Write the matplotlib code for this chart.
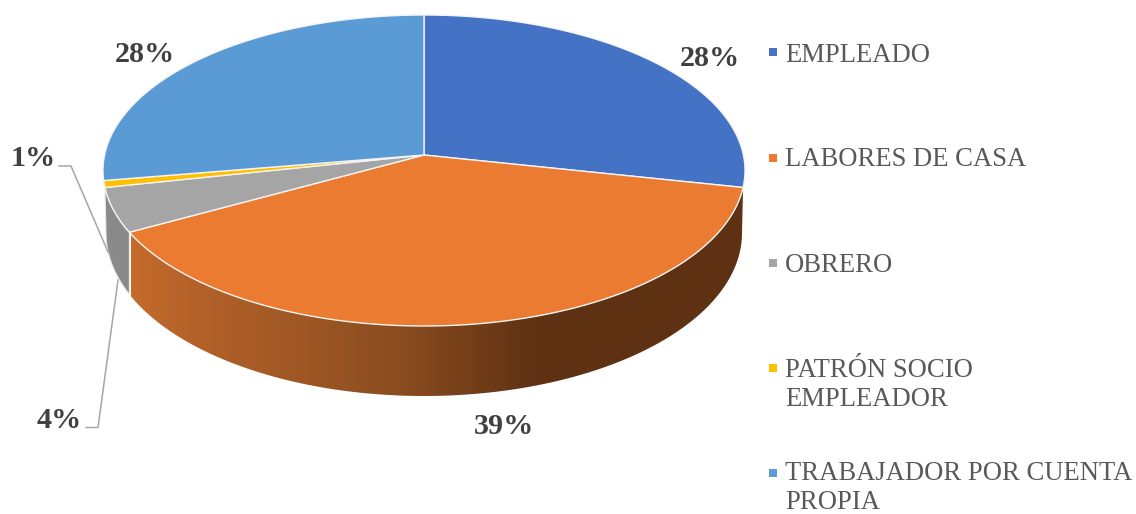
import numpy as np
import matplotlib.pyplot as plt
from matplotlib.colors import LinearSegmentedColormap
from matplotlib.patches import Polygon, Rectangle

plt.rcParams['font.family'] = ['Liberation Serif', 'DejaVu Serif']

# Data
categories = ['EMPLEADO', 'LABORES DE CASA', 'OBRERO', 'PATRÓN SOCIO\nEMPLEADOR',
              'TRABAJADOR POR CUENTA\nPROPIA']
shares = np.array([28.3, 38.8, 4.6, 0.7, 27.6])
pct_labels = ['28%', '39%', '4%', '1%', '28%']
colors = ['#4472C4', '#EB7B31', '#A5A5A5', '#FFC000', '#5B9BD5']

# Geometry in pixels: top ellipse, pie apex (off centre, perspective), lower rim
cx, cy, rx, ry = 424, 170.5, 321, 155.5
ax_y = 155
squash = 0.484
cy2, rx2, ry2 = 233, 318, 163


def top_pt(phi):
    # where the ray from the apex at angle phi meets the top ellipse
    phi = np.radians(phi)
    dx = np.sin(phi)
    dy = -np.cos(phi)*squash
    a = (dx/rx)**2 + (dy/ry)**2
    b = 2*dy*(ax_y - cy)/ry**2
    c = ((ax_y - cy)/ry)**2 - 1
    s = (-b + np.sqrt(b**2 - 4*a*c)) / (2*a)
    return np.column_stack([cx + s*dx, ax_y + s*dy])


def low_pt(t):
    t = np.radians(t)
    return np.column_stack([cx + rx2*np.sin(t), cy2 - ry2*np.cos(t)])


fig = plt.figure(figsize=(11.36, 5.14), dpi=100)
ax = fig.add_axes([0, 0, 1, 1])
ax.set_xlim(0, 1136)
ax.set_ylim(514, 0)
ax.axis('off')

edges = np.concatenate([[0], np.cumsum(shares)]) / shares.sum() * 360

# Lower rim angle under the orange/grey seam
seam_x = top_pt(np.array([edges[2]]))[0, 0]
seam_t = 180 + np.degrees(np.arcsin((cx - seam_x)/rx2))

# Side of the orange slice, shaded left to right
side = np.vstack([top_pt(np.linspace(edges[1], edges[2], 200)), low_pt(np.linspace(seam_t, 90, 200))])
patch = Polygon(side, closed=True, fc='none', ec='none')
ax.add_patch(patch)
cmap = LinearSegmentedColormap.from_list(
    'side', [(0, '#C66C2C'), (0.1, '#B9642A'), (0.65, '#8B4D20'), (1, '#5E3112')])
img = ax.imshow(np.linspace(0, 1, 256)[None, :], cmap=cmap, extent=[131, 540, 400, 180], aspect='auto', zorder=1)
img.set_clip_path(patch)
rest = Rectangle((540, 180), 210, 220, fc='#5E3112', ec='none', zorder=1)
ax.add_patch(rest)
rest.set_clip_path(patch)
ax.set_xlim(0, 1136)
ax.set_ylim(514, 0)

# Side of the grey slice
side = np.vstack([top_pt(np.linspace(edges[2], edges[3], 40)), low_pt(np.linspace(270, seam_t, 40))])
ax.add_patch(Polygon(side, closed=True, fc='#8A8A8A', ec='#E8E8E8', lw=0.8, zorder=2))

# Top face
for i in range(len(shares)):
    pts = np.vstack([[[cx, ax_y]], top_pt(np.linspace(edges[i], edges[i+1], 200))])
    ax.add_patch(Polygon(pts, closed=True, fc=colors[i], ec='#F4F4F4', lw=1.0, zorder=3))

# Data labels
label_pos = [(710, 58), (504, 426), (59, 420), (33, 159), (145, 54)]
for txt, (x, y) in zip(pct_labels, label_pos):
    ax.text(x, y, txt, ha='center', va='center', fontsize=21.7, fontweight='bold', color='#404040', zorder=5)

# Leader lines
ax.plot([59, 71, 108], [166, 166, 252], color='#A6A6A6', lw=1.1, zorder=4)
ax.plot([86, 98, 118], [427.5, 427.5, 280], color='#A6A6A6', lw=1.1, zorder=4)

# Legend
legend_y = [55, 160, 265, 385, 488]
mark_y = [52, 158, 263, 368, 473]
for name, col, y, my in zip(categories, colors, legend_y, mark_y):
    ax.add_patch(Rectangle((769, my - 3.75), 7.5, 7.5, fc=col, ec='none'))
    ax.text(785, y, name, ha='left', va='center', fontsize=19.2, color='#595959', linespacing=1.25)

plt.savefig('out.png', dpi=100)
